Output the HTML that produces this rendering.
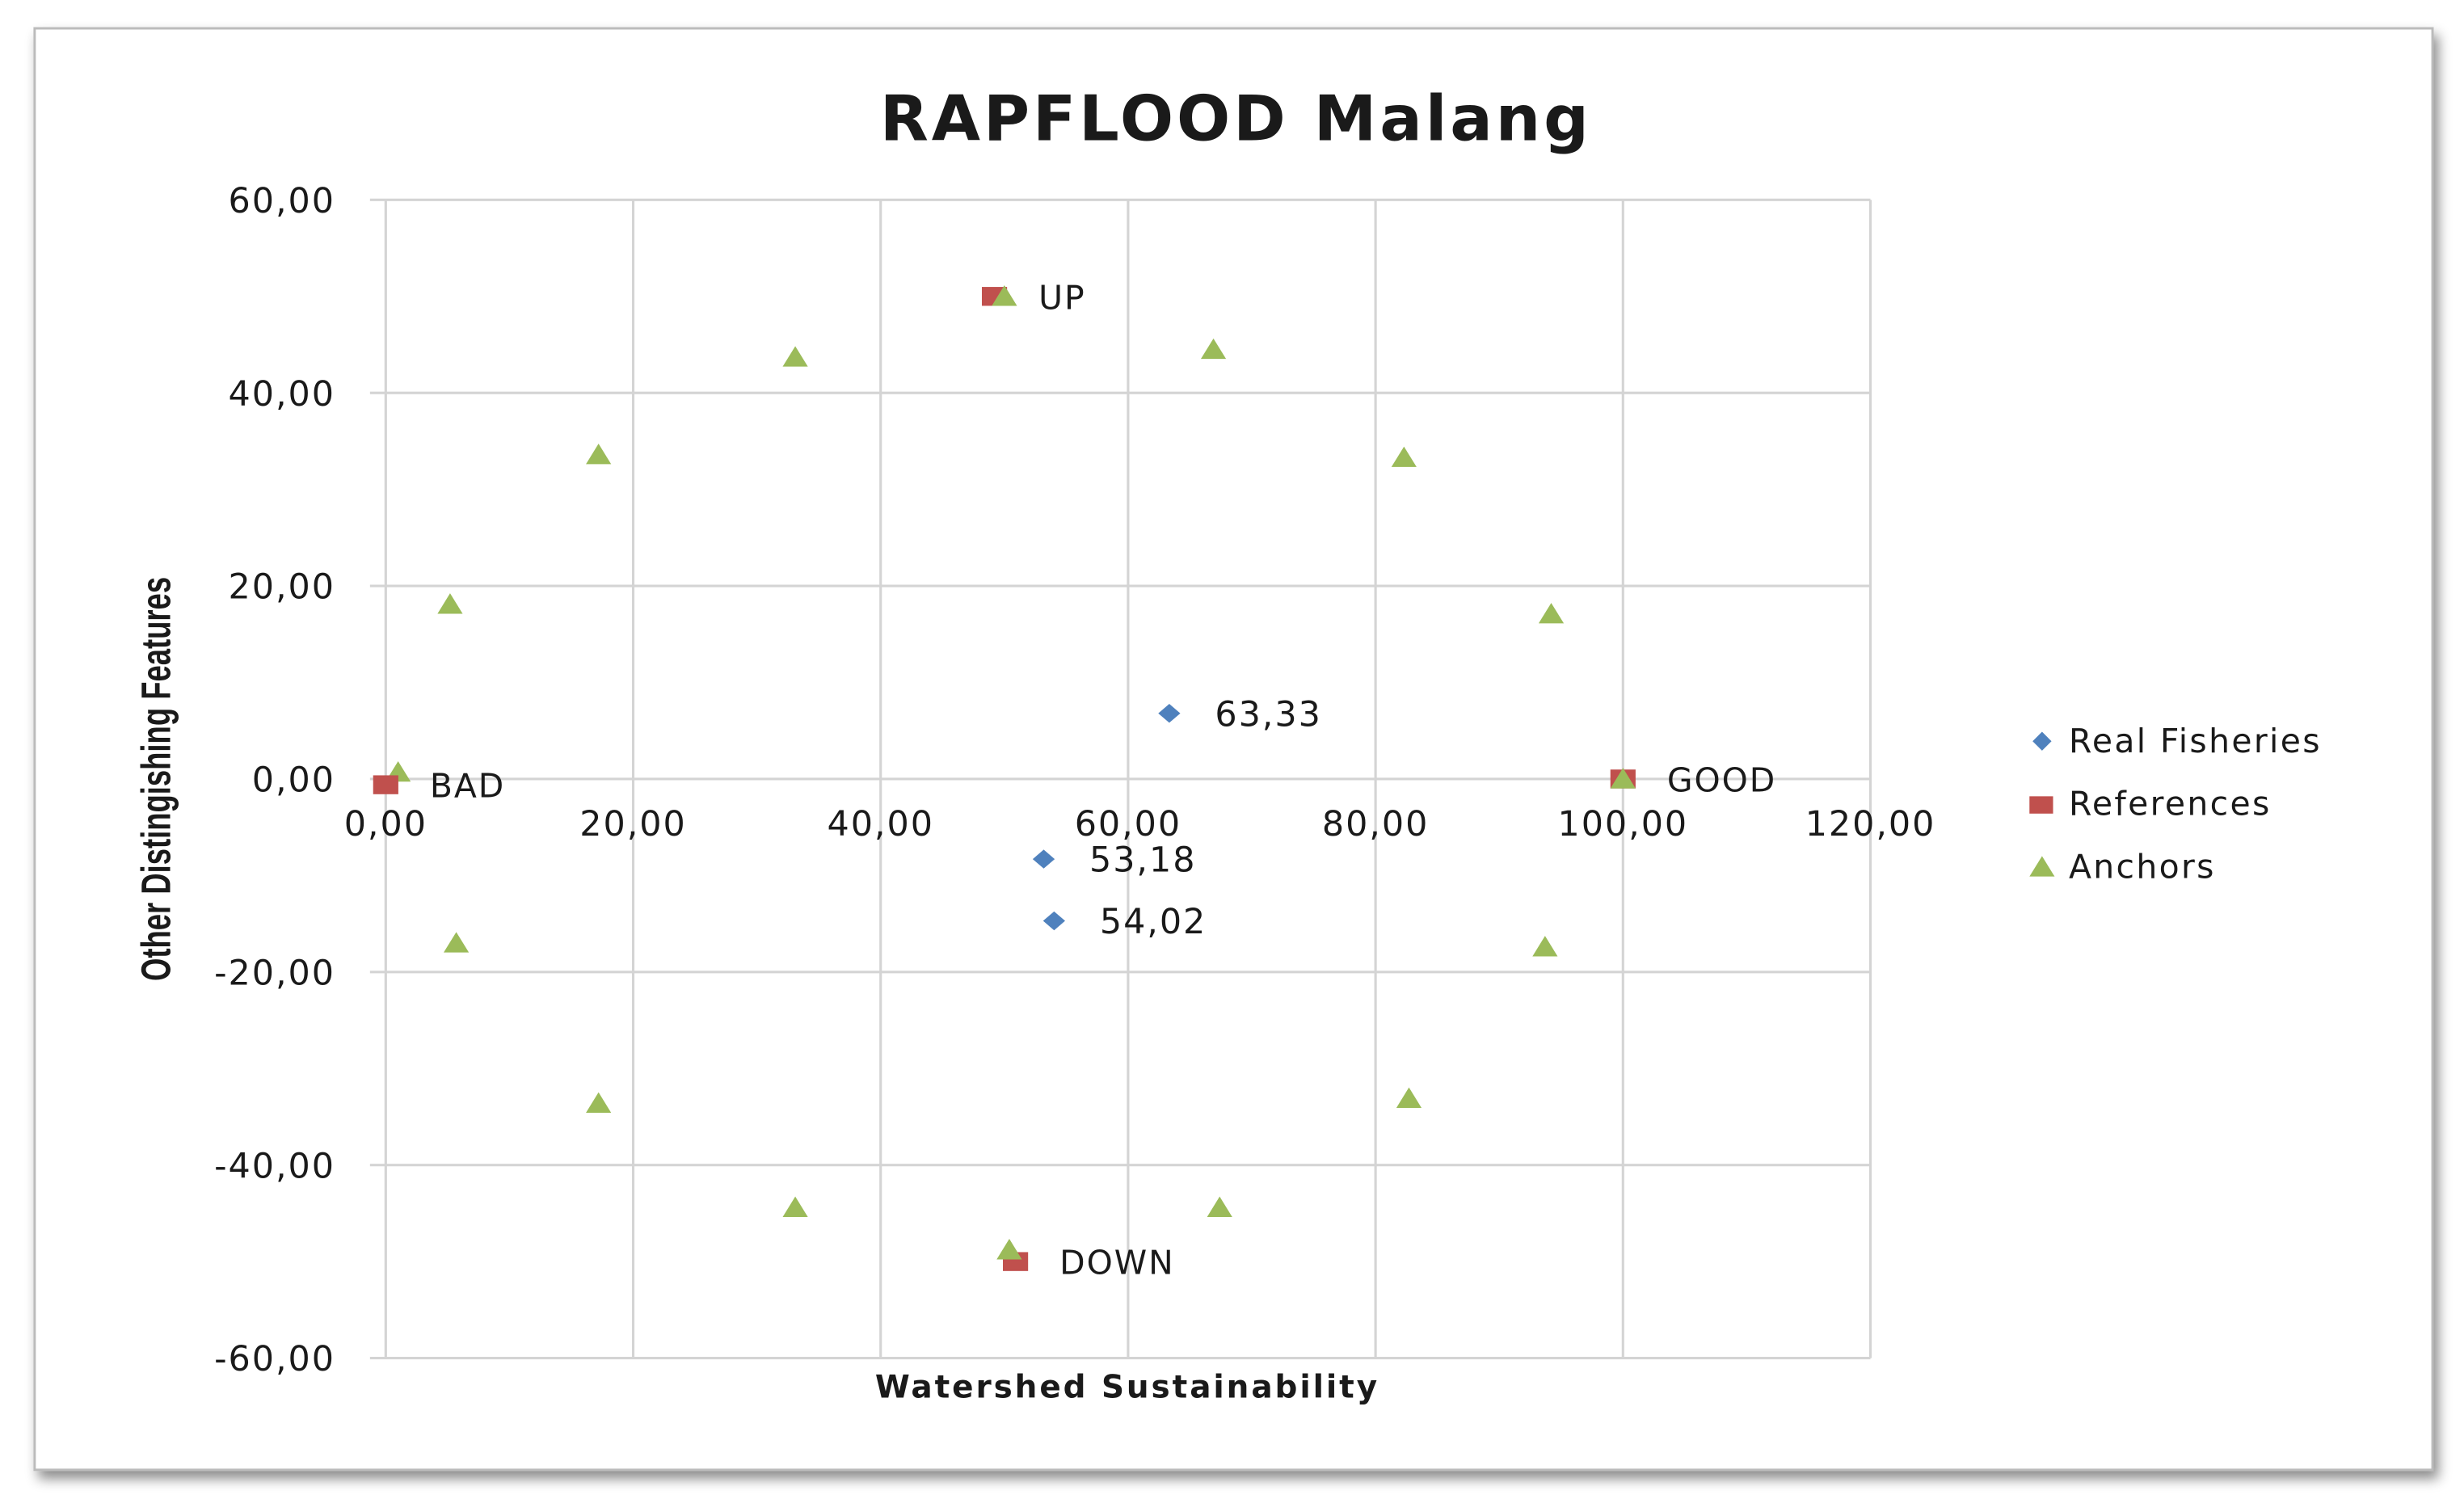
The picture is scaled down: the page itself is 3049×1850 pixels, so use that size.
<!DOCTYPE html>
<html><head><meta charset="utf-8"><style>
html,body{margin:0;padding:0;background:#fff;}
svg{display:block;}
text{font-family:"DejaVu Sans","Liberation Sans",sans-serif;fill:#1a1a1a;}
</style></head><body>
<svg id="chart" width="3049" height="1850" viewBox="0 0 1565 950" preserveAspectRatio="none" xmlns="http://www.w3.org/2000/svg">
<defs><filter id="sh" x="-5%" y="-5%" width="110%" height="110%"><feDropShadow dx="3" dy="5" stdDeviation="4" flood-color="#000" flood-opacity="0.45"/></filter></defs>
<rect x="22" y="18" width="1523" height="916" fill="#fff" stroke="#bbb" stroke-width="1.5" filter="url(#sh)"/>
<text x="785" y="89" text-anchor="middle" font-size="40" font-weight="bold" letter-spacing="2">RAPFLOOD Malang</text>
<g id="grid"></g>
<g id="marks"></g>
<text x="716" y="888" text-anchor="middle" font-size="20" font-weight="bold" letter-spacing="1.5">Watershed Sustainability</text>
<text transform="translate(108,495) rotate(-90) scale(0.72,1)" text-anchor="middle" font-size="26" font-weight="bold" style="font-family:'Liberation Sans',sans-serif">Other Distingishing Features</text>
<g>
<path d="M1297,465 L1303,471 L1297,477 L1291,471 Z" fill="#4f81bd"/>
<text x="1314" y="478" font-size="21" letter-spacing="1.2">Real Fisheries</text>
<rect x="1289" y="506" width="15" height="11" fill="#c0504d"/>
<text x="1314" y="518" font-size="21" letter-spacing="1.2">References</text>
<path d="M1297,544 L1305,557 L1289,557 Z" fill="#9bbb59"/>
<text x="1314" y="558" font-size="21" letter-spacing="1.2">Anchors</text>
</g>
</svg>
<script>
const xTicks=[0,20,40,60,80,100,120];
const yTicks=[60,40,20,0,-20,-40,-60];
const xTickLabels=["0,00","20,00","40,00","60,00","80,00","100,00","120,00"];
const yTickLabels=["60,00","40,00","20,00","0,00","-20,00","-40,00","-60,00"];
const anchorsX=[17.2,33.1,50,66.9,82.3,94.2,100,93.7,82.7,67.4,50.4,33.1,17.2,5.7,1.0,5.2];
const anchorsY=[33.6,43.7,50,44.5,33.3,17.1,0,-17.4,-33.1,-44.4,-48.8,-44.4,-33.6,-17.0,0.7,18.1];
const refX=[0,49.2,100,50.9];
const refY=[-0.6,50,0,-50];
const refLabels=["BAD","UP","GOOD","DOWN"];
const realX=[63.33,53.18,54.02];
const realY=[6.8,-8.3,-14.7];
const realLabels=["63,33","53,18","54,02"];

const X=v=>245+(v-0)*(1188-245)/120;
const Y=v=>495-v*(863-127)/120;
const NS="http://www.w3.org/2000/svg";
function mk(tag,attrs,parent,txt){const e=document.createElementNS(NS,tag);for(const k in attrs)e.setAttribute(k,attrs[k]);if(txt!==undefined)e.textContent=txt;parent.appendChild(e);return e;}
const grid=document.getElementById('grid'),marks=document.getElementById('marks');
xTicks.forEach((t,i)=>{
  const l=mk('line',{x1:X(t),x2:X(t),y1:Y(60),y2:Y(-60),stroke:'#d4d4d4','stroke-width':1.6},grid);
  
  
  const tx=mk('text',{x:X(t),y:531,'text-anchor':'middle','font-size':22,'letter-spacing':1},grid,xTickLabels[i]);
  
  
});
yTicks.forEach((t,i)=>{
  const l=mk('line',{x1:X(0)-10,x2:X(120),y1:Y(t),y2:Y(t),stroke:'#d4d4d4','stroke-width':1.6},grid);
  
  
  const tx=mk('text',{x:213,y:Y(t)+8,'text-anchor':'end','font-size':22,'letter-spacing':1},grid,yTickLabels[i]);
  
  
});
anchorsX.forEach((v,i)=>{
  const x=X(v),y=Y(anchorsY[i]);
  const p=mk('path',{d:`M${x},${y-7} L${x+8},${y+6} L${x-8},${y+6} Z`,fill:'#9bbb59'},marks);
  
  
});
refX.forEach((v,i)=>{
  const x=X(v),y=Y(refY[i]);
  const r=mk('rect',{x:x-8,y:y-6,width:16,height:12,fill:'#c0504d'},marks);
  
  
  const t=mk('text',{x:x+28,y:y+8,'font-size':21,'letter-spacing':1},marks,refLabels[i]);
  
  
});
anchorsX.forEach((v,i)=>{
  if(!(v===50||v===100||v===50.4))return;
  const x=X(v),y=Y(anchorsY[i]);
  const p=mk('path',{d:`M${x},${y-7} L${x+8},${y+6} L${x-8},${y+6} Z`,fill:'#9bbb59'},marks);
  
  
});
realX.forEach((v,i)=>{
  const x=X(v),y=Y(realY[i]);
  const p=mk('path',{d:`M${x},${y-6} L${x+7},${y} L${x},${y+6} L${x-7},${y} Z`,fill:'#4f81bd'},marks);
  
  
  const t=mk('text',{x:x+29,y:y+8,'font-size':22,'letter-spacing':1},marks,realLabels[i]);
  
  
});
</script>
</body></html>
